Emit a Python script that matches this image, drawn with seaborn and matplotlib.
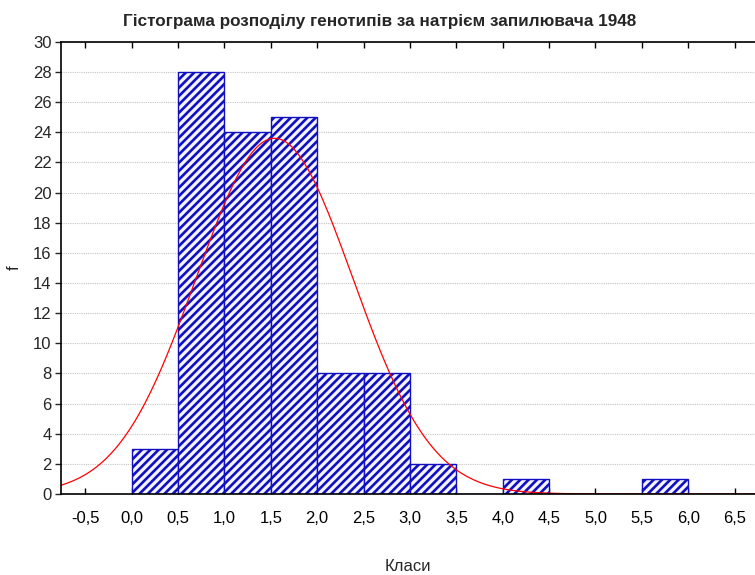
import numpy as np
import pandas as pd
import matplotlib
matplotlib.use("Agg")
import matplotlib.pyplot as plt
import seaborn as sns

# histogram classes (bin edges) and observed frequencies
bin_edges = [0.0, 0.5, 1.0, 1.5, 2.0, 2.5, 3.0, 3.5, 4.0, 4.5, 5.0, 5.5, 6.0]
freqs = [3, 28, 24, 25, 8, 8, 2, 0, 1, 0, 0, 1]
# fitted normal curve parameters
fit_mean = 1.54
fit_sd = 0.845
n_total = sum(freqs)
bin_width = 0.5

x_ticks = [-0.5, 0.0, 0.5, 1.0, 1.5, 2.0, 2.5, 3.0, 3.5, 4.0, 4.5, 5.0, 5.5, 6.0, 6.5]
y_ticks = list(range(0, 31, 2))

sns.set_style("white")
plt.rcParams['font.family'] = ['Liberation Sans', 'DejaVu Sans']
plt.rcParams['hatch.linewidth'] = 1.9

df = pd.DataFrame({"x": [(a + b) / 2 for a, b in zip(bin_edges[:-1], bin_edges[1:])],
                   "f": freqs})

fig = plt.figure(figsize=(7.55, 5.75), dpi=100)
ax = fig.add_axes([0.081, 0.141, 0.919, 0.786])

sns.histplot(data=df, x="x", weights="f", bins=bin_edges, ax=ax,
             color="#f2f2ff", alpha=1.0, edgecolor="#0000c0", linewidth=1.0)
for p in ax.patches:
    p.set_hatch("////")
    p.set_edgecolor("#1010c0")
    p.set_facecolor("#f4f4ff")

xs = np.linspace(-0.8, 6.8, 400)
curve = n_total * bin_width / (fit_sd * np.sqrt(2 * np.pi)) * np.exp(-0.5 * ((xs - fit_mean) / fit_sd) ** 2)
sns.lineplot(x=xs, y=curve, ax=ax, color="red", linewidth=0.9)

ax.set_xlim(-0.76, 6.72)
ax.set_ylim(0, 30)
ax.set_xticks(x_ticks)
ax.set_xticklabels([f"{t:.1f}".replace(".", ",") for t in x_ticks])
ax.set_yticks(y_ticks)
ax.yaxis.grid(True, color="#c4c4c4", linestyle=(0, (1, 1)), linewidth=0.8)
ax.xaxis.grid(False)
ax.set_axisbelow(True)

ax.tick_params(axis="x", direction="in", top=True, bottom=True, length=4, width=1,
               labelsize=12, pad=12, colors="black")
ax.tick_params(axis="y", direction="out", left=True, length=4, width=1,
               labelsize=12, pad=3)
for s in ["left", "bottom", "top"]:
    ax.spines[s].set_visible(True)
    ax.spines[s].set_color("black")
    ax.spines[s].set_linewidth(1.2)
ax.spines["right"].set_visible(False)

ax.set_xlabel("Класи", fontsize=12, labelpad=24)
ax.set_ylabel("f", fontsize=12, labelpad=8)
fig.text(0.503, 0.962, "Гістограма розподілу генотипів за натрієм запилювача 1948",
         ha="center", va="center", fontsize=12.3, fontweight="bold")

fig.savefig("out.png", dpi=100)
